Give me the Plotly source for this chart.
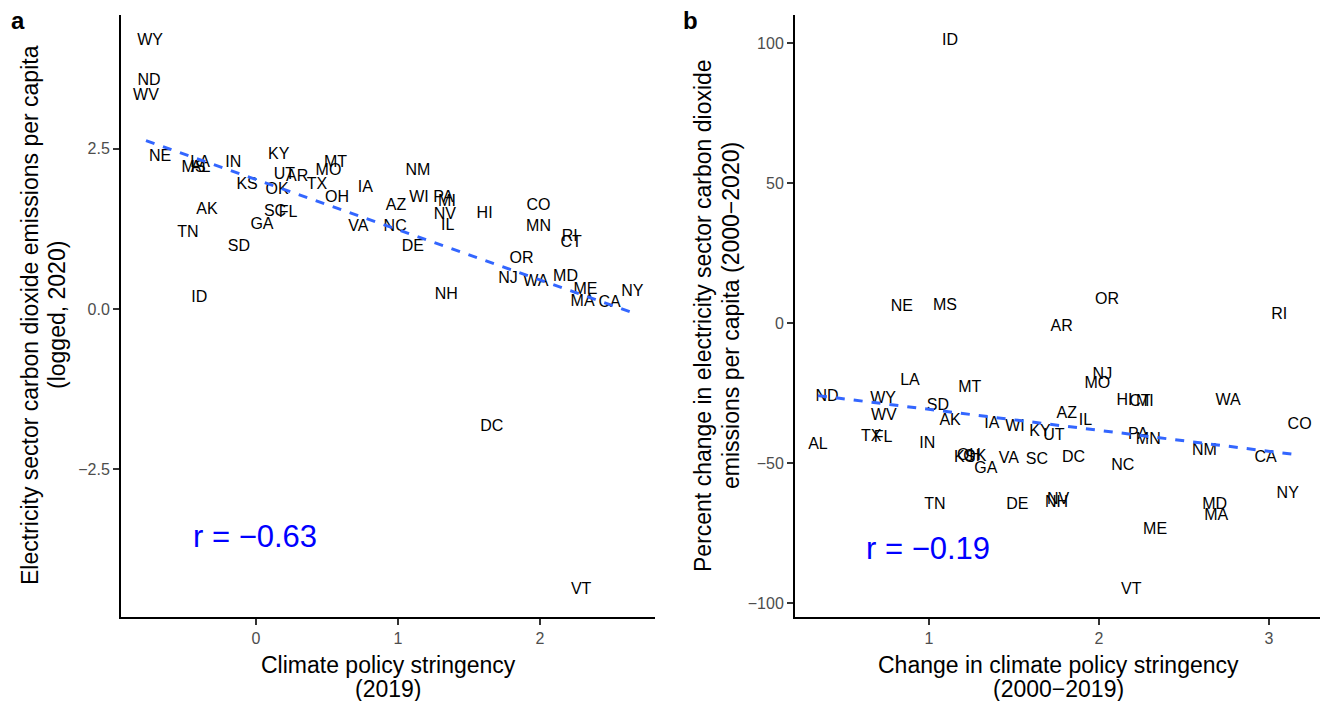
import numpy as np
import plotly.graph_objects as go

# Panel a data: climate policy stringency (2019) vs logged emissions per capita (2020)
states_a = ["WY","ND","WV","NE","MS","AL","LA","IN","KY","UT","AR","MO","MT","TX","KS","OK","OH","IA",
            "AK","SC","FL","GA","TN","SD","VA","ID","NM","AZ","WI","PA","MI","NV","IL","NC","DE","HI",
            "CO","MN","RI","CT","OR","NJ","WA","MD","ME","MA","CA","NY","NH","DC","VT"]
stringency_2019 = [-0.746,-0.754,-0.775,-0.676,-0.44,-0.39,-0.394,-0.16,0.16,0.20,0.29,0.51,0.56,0.43,-0.063,0.148,0.57,0.77,
                   -0.345,0.134,0.225,0.042,-0.48,-0.12,0.72,-0.40,1.14,0.986,1.148,1.32,1.345,1.33,1.35,0.98,1.105,1.61,
                   1.99,1.99,2.21,2.22,1.87,1.775,1.97,2.18,2.32,2.30,2.49,2.65,1.34,1.66,2.29]
log_emissions_2020 = [4.19,3.56,3.33,2.375,2.20,2.20,2.28,2.28,2.41,2.09,2.06,2.16,2.28,1.94,1.94,1.86,1.73,1.89,
                      1.55,1.52,1.50,1.31,1.19,0.97,1.28,0.17,2.16,1.61,1.73,1.73,1.67,1.47,1.30,1.28,0.97,1.48,
                      1.61,1.28,1.125,1.03,0.78,0.47,0.42,0.50,0.30,0.11,0.09,0.27,0.22,-1.84,-4.39]

# Panel b data: change in stringency (2000-2019) vs % change in emissions per capita (2000-2020)
states_b = ["ID","NE","MS","OR","RI","AR","LA","MT","ND","WY","SD","WV","AK","IA","WI","KY","UT","AZ","IL",
            "NJ","MO","HI","CT","MI","PA","MN","WA","CO","NM","CA","NC","DC","SC","VA","GA","KS","OK","OH",
            "IN","TX","FL","AL","TN","DE","NV","NH","MD","MA","NY","ME","VT"]
stringency_change = [1.124,0.841,1.094,2.047,3.06,1.78,0.888,1.24,0.40,0.73,1.053,0.735,1.124,1.37,1.506,1.653,1.735,1.81,1.92,
                     2.02,1.99,2.15,2.24,2.27,2.23,2.29,2.76,3.18,2.62,2.98,2.14,1.85,1.635,1.47,1.335,1.21,1.27,1.235,
                     0.99,0.66,0.73,0.347,1.035,1.52,1.76,1.75,2.68,2.69,3.11,2.33,2.19]
pct_change_emissions = [100.7,5.7,6.1,8.2,2.9,-1.4,-20.7,-23.2,-26.4,-27.1,-29.6,-33.2,-35.0,-36.1,-37.1,-38.9,-40.4,-32.5,-35.0,
                        -18.6,-21.8,-27.9,-28.2,-28.2,-40.0,-41.8,-27.9,-36.4,-45.7,-48.2,-51.1,-48.2,-48.9,-48.6,-52.1,-48.2,-47.9,-47.6,
                        -43.2,-40.7,-41.1,-43.6,-65.0,-65.0,-63.2,-64.3,-65.0,-68.9,-61.0,-73.9,-95.4]

FONT = "Liberation Sans, Arial, sans-serif"
BLUE = "#3366FF"

fig = go.Figure()

def add_panel(x, y, labels, xa, ya):
    x = np.array(x); y = np.array(y)
    fig.add_trace(go.Scatter(x=x, y=y, text=labels, mode="text", textposition="middle center",
                             textfont=dict(family=FONT, size=16, color="black"),
                             xaxis=xa, yaxis=ya, showlegend=False, hoverinfo="skip"))
    m, b = np.polyfit(x, y, 1)
    xs = np.array([x.min(), x.max()])
    fig.add_trace(go.Scatter(x=xs, y=m * xs + b, mode="lines",
                             line=dict(color=BLUE, width=3, dash="dash"),
                             xaxis=xa, yaxis=ya, showlegend=False, hoverinfo="skip"))
    return np.corrcoef(x, y)[0, 1]

r_a = add_panel(stringency_2019, log_emissions_2020, states_a, "x", "y")
r_b = add_panel(stringency_change, pct_change_emissions, states_b, "x2", "y2")

ydom = [1 - 617 / 701, 1 - 15 / 701]
axis_common = dict(showgrid=False, zeroline=False, showline=True, linecolor="black", linewidth=2,
                   ticks="outside", ticklen=6, tickwidth=2, tickcolor="#333333",
                   tickfont=dict(family=FONT, size=16, color="#4D4D4D"))

fig.update_layout(
    width=1327, height=701, margin=dict(l=0, r=0, t=0, b=0),
    paper_bgcolor="white", plot_bgcolor="white",
    xaxis=dict(domain=[121 / 1327, 655 / 1327], range=[-0.951, 2.81], tickvals=[0, 1, 2],
               anchor="y", **axis_common),
    yaxis=dict(domain=ydom, range=[-4.81, 4.59], tickvals=[-2.5, 0, 2.5],
               ticktext=["\u22122.5", "0.0", "2.5"], anchor="x", **axis_common),
    xaxis2=dict(domain=[795 / 1327, 1320 / 1327], range=[0.212, 3.3], tickvals=[1, 2, 3],
                anchor="y2", **axis_common),
    yaxis2=dict(domain=ydom, range=[-105, 110], tickvals=[-100, -50, 0, 50, 100],
                ticktext=["\u2212100", "\u221250", "0", "50", "100"], anchor="x2", **axis_common),
)

anns = []
def txt(x, y, s, size=23, color="black", angle=0, xref="paper", yref="paper", bold=False):
    if bold:
        s = "<b>" + s + "</b>"
    anns.append(dict(x=x, y=y, xref=xref, yref=yref, text=s, showarrow=False, textangle=angle,
                     font=dict(family=FONT, size=size, color=color), xanchor="center", yanchor="middle"))

W, H = 1327, 701
px = lambda v: v / W
py = lambda v: 1 - v / H

# panel letters
txt(px(18), py(20), "a", size=24, bold=True)
txt(px(690), py(20), "b", size=24, bold=True)

# axis titles panel a
txt(px(388), py(665), "Climate policy stringency")
txt(px(388), py(689), "(2019)")
txt(px(30), py(315), "Electricity sector carbon dioxide emissions per capita", angle=-90)
txt(px(57), py(315), "(logged, 2020)", angle=-90)

# axis titles panel b
txt(px(1058), py(665), "Change in climate policy stringency")
txt(px(1058), py(689), "(2000\u22122019)")
txt(px(703), py(316), "Percent change in electricity sector carbon dioxide", angle=-90)
txt(px(731), py(316), "emissions per capita (2000\u22122020)", angle=-90)

# correlation labels
anns.append(dict(x=-0.007, y=-3.56, xref="x", yref="y", text="r = \u22120.63", showarrow=False,
                 font=dict(family=FONT, size=31, color="blue")))
anns.append(dict(x=0.994, y=-80.4, xref="x2", yref="y2", text="r = \u22120.19", showarrow=False,
                 font=dict(family=FONT, size=31, color="blue")))

fig.update_layout(annotations=anns)
fig.write_html("out.html", config={"displayModeBar": False},
               post_script="document.body.style.margin='0';document.body.style.overflow='hidden';")
